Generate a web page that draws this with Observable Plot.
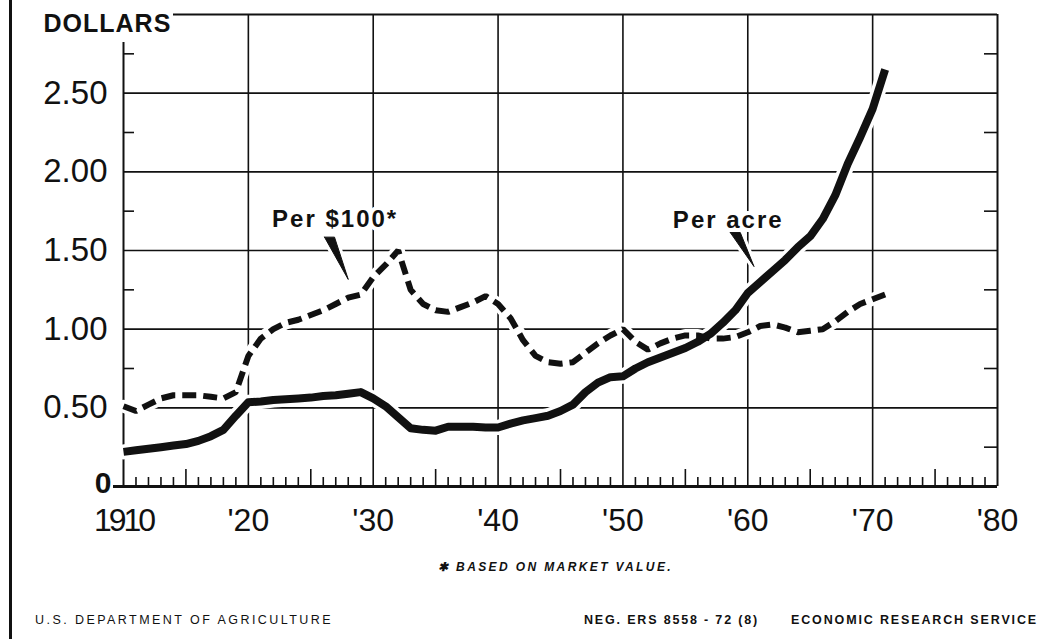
<!DOCTYPE html>
<html>
<head>
<meta charset="utf-8">
<script src="https://cdn.jsdelivr.net/npm/d3@7"></script>
<script src="https://cdn.jsdelivr.net/npm/@observablehq/plot@0.6"></script>
<style>
html, body { margin: 0; padding: 0; background: #fff; }
#wrap { position: relative; width: 1062px; height: 639px; overflow: hidden; font-family: "Liberation Sans", Arial, sans-serif; color: #111; }
#chart { position: absolute; left: 0; top: 0; }
#border { position: absolute; left: 9px; top: 0; width: 3px; height: 639px; background: #111; }
.foot { position: absolute; white-space: nowrap; line-height: 16px; font-size: 12.5px; }
</style>
</head>
<body>
<div id="wrap">
  <div id="chart"></div>
  <div id="border"></div>
  <div class="foot" id="note" style="font-weight:bold;font-style:italic;font-size:12px;">✱ BASED ON MARKET VALUE.</div>
  <div class="foot" id="usda">U.S. DEPARTMENT OF AGRICULTURE</div>
  <div class="foot" id="neg" style="font-weight:bold;">NEG. ERS 8558 - 72 (8)</div>
  <div class="foot" id="ers" style="font-weight:bold;">ECONOMIC RESEARCH SERVICE</div>
</div>
<script>
// ---- data ----
const years = [1910,1911,1912,1913,1914,1915,1916,1917,1918,1919,
               1920,1921,1922,1923,1924,1925,1926,1927,1928,1929,
               1930,1931,1932,1933,1934,1935,1936,1937,1938,1939,
               1940,1941,1942,1943,1944,1945,1946,1947,1948,1949,
               1950,1951,1952,1953,1954,1955,1956,1957,1958,1959,
               1960,1961,1962,1963,1964,1965,1966,1967,1968,1969,
               1970,1971];
const perAcre = [0.22,0.23,0.24,0.25,0.26,0.27,0.29,0.32,0.36,0.45,
                 0.535,0.54,0.55,0.555,0.56,0.565,0.575,0.58,0.59,0.60,
                 0.56,0.51,0.44,0.37,0.36,0.355,0.38,0.38,0.38,0.375,
                 0.375,0.40,0.42,0.435,0.45,0.48,0.52,0.60,0.66,0.695,
                 0.70,0.75,0.79,0.82,0.85,0.88,0.92,0.97,1.04,1.12,
                 1.23,1.30,1.37,1.44,1.52,1.59,1.70,1.85,2.05,2.22,
                 2.40,2.65];
const per100 = [0.51,0.48,0.52,0.56,0.58,0.58,0.58,0.57,0.56,0.60,
                0.83,0.94,1.00,1.04,1.06,1.09,1.12,1.16,1.20,1.22,
                1.33,1.41,1.50,1.25,1.16,1.12,1.11,1.14,1.17,1.21,
                1.16,1.07,0.93,0.83,0.79,0.78,0.79,0.85,0.91,0.96,
                1.00,0.92,0.87,0.91,0.94,0.96,0.96,0.94,0.94,0.95,
                0.98,1.02,1.03,1.01,0.98,0.99,1.00,1.05,1.11,1.16,
                1.19,1.22];

const xTicks = [1910,1920,1930,1940,1950,1960,1970,1980];
const xTickLabels = ["1910","'20","'30","'40","'50","'60","'70","'80"];
const yTicks = [0,0.5,1,1.5,2,2.5];
const yTickLabels = ["0","0.50","1.00","1.50","2.00","2.50"];
const yGrid = [0.5,1,1.5,2,2.5];
const yQuarter = [0.25,0.75,1.25,1.75,2.25,2.75];
const yTop = 3;
const xGrid = [1920,1930,1940,1950,1960,1970];
const xEnd = 1980;

const annLabels = ["Per $100*","Per acre"];
const annYear = [1921.9, 1954.0];
const annValue = [1.70, 1.695];
// pointer wedges: [top year, top value, tip year, tip value]
const pointers = [[1926.5, 1.585, 1928.0, 1.316],[1959.0, 1.614, 1960.5, 1.398]];

// ---- build tables ----
const rows = years.map((y,i) => ({year: y, perAcre: perAcre[i], per100: per100[i]}));
const xLab = xTicks.map((t,i) => ({x: t, label: xTickLabels[i]}));
const yLab = yTicks.map((t,i) => ({y: t, label: yTickLabels[i]}));
const minorYears = d3.range(1911, 1980).filter(y => y % 10 !== 0 && y % 5 !== 0);
const fiveYears = d3.range(1915, 1980, 10);
const ann = annLabels.map((t,i) => ({text: t, x: annYear[i], y: annValue[i]}));
const wedges = pointers.flatMap((p,k) => [
  {k, x: p[0]-0.4, y: p[1]}, {k, x: p[0]+0.4, y: p[1]}, {k, x: p[2], y: p[3]}, {k, x: p[0]-0.4, y: p[1]}
]);

const W = 1062, H = 550, mL = 123, mR = 65, mT = 14, mB = 64;
const pW = W - mL - mR, pH = H - mT - mB;
const ink = "#111";

const chart = Plot.plot({
  width: W, height: H,
  marginLeft: mL, marginRight: mR, marginTop: mT, marginBottom: mB,
  style: {fontFamily: "'Liberation Sans', Arial, sans-serif", background: "#fff", color: ink, overflow: "visible"},
  x: {domain: [1910, 1980], axis: null},
  y: {domain: [0, 3], axis: null},
  marks: [
    Plot.ruleX(xGrid, {stroke: ink, strokeWidth: 1.6}),
    Plot.ruleX([xEnd], {stroke: ink, strokeWidth: 2}),
    Plot.ruleY(yGrid, {stroke: ink, strokeWidth: 1.6}),
    Plot.ruleY([yTop], {stroke: ink, strokeWidth: 2, insetLeft: 50}),
    Plot.ruleX([1910], {stroke: ink, strokeWidth: 2, insetTop: 28}),
    Plot.tickX(minorYears, {x: d => d, stroke: ink, strokeWidth: 1.6, insetTop: pH - 9}),
    Plot.tickX(fiveYears, {x: d => d, stroke: ink, strokeWidth: 1.6, insetTop: pH - 17}),
    Plot.tickY(yQuarter, {y: d => d, stroke: ink, strokeWidth: 1.6, insetRight: pW - 11}),
    Plot.tickY(yQuarter, {y: d => d, stroke: ink, strokeWidth: 1.6, insetLeft: pW - 13}),
    // white halos break the grid around the curves
    Plot.line(rows, {x: "year", y: "perAcre", stroke: "#fff", strokeWidth: 15, strokeLinejoin: "round"}),
    Plot.line(rows, {x: "year", y: "per100", stroke: "#fff", strokeWidth: 13, strokeLinejoin: "round"}),
    Plot.ruleY([0], {stroke: ink, strokeWidth: 3, insetLeft: -10}),
    Plot.line(rows, {x: "year", y: "perAcre", stroke: ink, strokeWidth: 8, strokeLinejoin: "round", strokeLinecap: "butt"}),
    Plot.line(rows, {x: "year", y: "per100", stroke: ink, strokeWidth: 6, strokeDasharray: "14,7", strokeLinejoin: "miter", strokeLinecap: "butt"}),
    // pointers
    Plot.line(wedges, {x: "x", y: "y", z: "k", stroke: "#fff", strokeWidth: 7, strokeLinejoin: "round"}),
    Plot.line(wedges, {x: "x", y: "y", z: "k", stroke: ink, fill: ink, strokeWidth: 1, strokeLinejoin: "miter"}),
    // annotation labels
    Plot.text(ann, {x: "x", y: "y", text: "text", textAnchor: "start", lineAnchor: "middle",
      fontSize: 24, fontWeight: "bold", fill: ink, stroke: "#fff", strokeWidth: 8, paintOrder: "stroke"}),
    // axis labels
    Plot.text(yLab.filter(d => d.y !== 0), {y: "y", text: "label", frameAnchor: "left", textAnchor: "end", dx: -16,
      fontSize: 33, fill: ink}),
    Plot.text(yLab.filter(d => d.y === 0), {y: "y", text: "label", frameAnchor: "left", textAnchor: "end", dx: -12, dy: -3,
      fontSize: 30, fontWeight: "bold", fill: ink}),
    Plot.text(xLab, {x: "x", text: "label", frameAnchor: "bottom", dy: 34, lineAnchor: "middle",
      fontSize: 32, fill: ink}),
    Plot.text(["DOLLARS"], {frameAnchor: "top-left", dx: -80, dy: 9, textAnchor: "start", lineAnchor: "middle",
      fontSize: 25, fontWeight: "bold", fill: ink})
  ]
});
document.getElementById("chart").appendChild(chart);
const sel = d3.select(chart).selectAll("text");
sel.filter(function() { return this.textContent.startsWith("Per"); }).attr("letter-spacing", "2px");
sel.filter(function() { return this.textContent === "DOLLARS"; }).attr("letter-spacing", "1px");
sel.filter(function() { return this.textContent === "1910"; }).attr("letter-spacing", "-3px");

// footer placement: fit each string to its measured span in the reference
function place(id, left, right, centerY) {
  const el = document.getElementById(id);
  const n = el.textContent.length;
  el.style.letterSpacing = "0px";
  const w0 = el.getBoundingClientRect().width;
  el.style.letterSpacing = Math.max(0, (right - left - w0) / n) + "px";
  el.style.left = left + "px";
  el.style.top = (centerY - 8) + "px";
}
place("note", 438, 673, 567);
place("usda", 35, 333, 620);
place("neg", 584, 759, 620);
place("ers", 791, 1038, 620);
</script>
</body>
</html>
